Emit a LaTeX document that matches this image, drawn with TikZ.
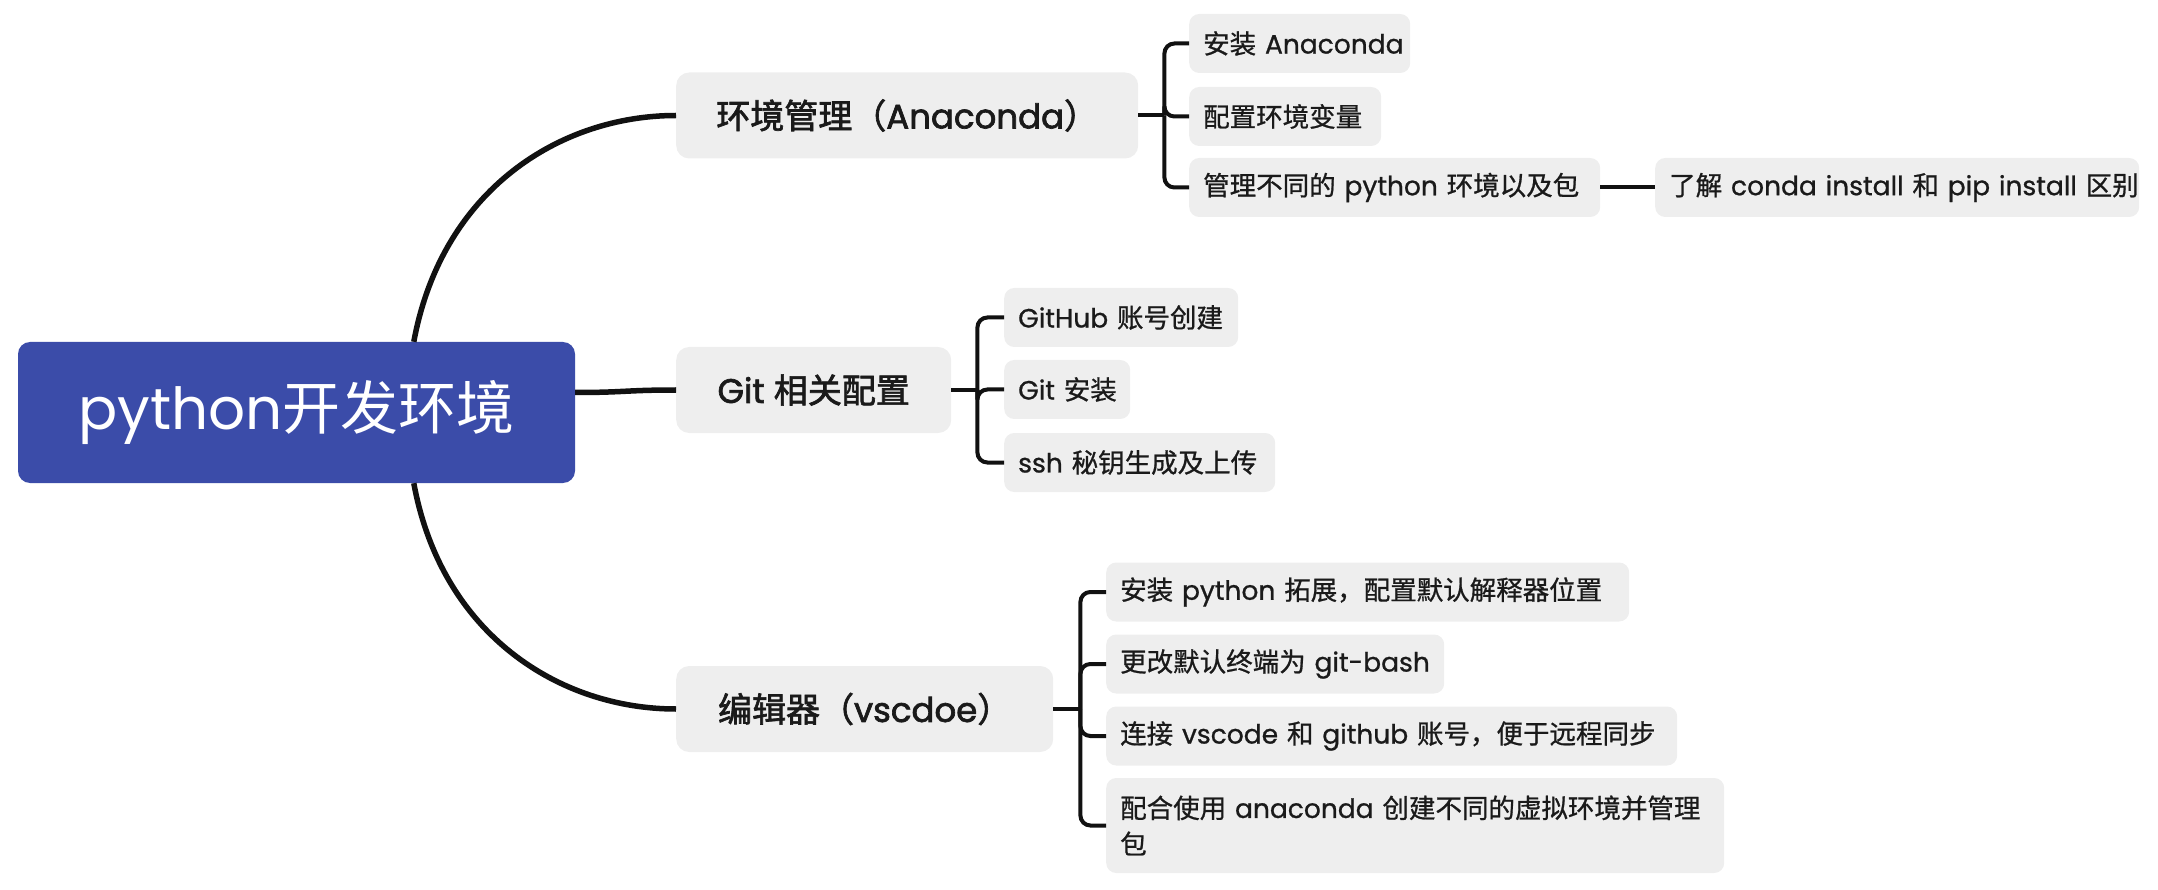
\documentclass[tikz,border=0pt]{standalone}
\usepackage{fontspec}
\setmainfont{Poppins}
\newfontfamily\cjk{Noto Sans CJK SC}
\newfontfamily\cjkB[FakeBold=2]{Noto Sans CJK SC}
\newfontfamily\latB[FakeBold=2]{Poppins}
\newfontfamily\cjkL[FakeBold=0.8]{Noto Sans CJK SC}
\newfontfamily\latL[FakeBold=0.8]{Poppins}
\let\cjkcur\cjk
\newcommand\C[1]{{\cjkcur #1}}
\newcommand\rootfnt{\fontsize{58}{66}\selectfont\let\cjkcur\cjk}
\newcommand\branchfnt{\fontsize{34}{40}\selectfont\latB\let\cjkcur\cjkB}
\newcommand\leaffnt{\fontsize{26.5}{36}\selectfont\latL\let\cjkcur\cjkL}
\usetikzlibrary{calc}
\definecolor{rootblue}{RGB}{59,76,169}
\definecolor{boxgrey}{RGB}{238,238,238}
\definecolor{txt}{RGB}{26,26,26}
\definecolor{ln}{RGB}{17,17,17}
\begin{document}
\begin{tikzpicture}[x=1pt,y=-1pt,
  rootbox/.style={fill=rootblue, rounded corners=12pt, text=white, inner sep=0pt,
    minimum width=557pt, minimum height=141pt, font=\rootfnt},
  branchbox/.style={fill=boxgrey, rounded corners=13pt, text=txt, inner sep=0pt,
    minimum height=86pt, anchor=west, font=\branchfnt},
  leafbox/.style={fill=boxgrey, rounded corners=10pt, text=txt, inner xsep=14pt, inner ysep=0pt,
    minimum height=59pt, anchor=west, align=left, font=\leaffnt},
  mainline/.style={draw=ln, line width=5.5pt},
  leafline/.style={draw=ln, line width=4pt}]
\useasboundingbox (0,0) rectangle (2158,890);
% root
\node[rootbox] (root) at (296.5,412.5) {python\C{开发环境}};
% branches
\node[branchbox, minimum width=462pt] (b1) at (676,115.5) {\C{环境管理（}Anaconda\C{）}};
\node[branchbox, minimum width=275pt] (b2) at (676,390) {Git \C{相关配置}};
\node[branchbox, minimum width=377pt] (b3) at (676,709) {\C{编辑器（}vscdoe\C{）}};
% leaves of b1
\node[leafbox, text width=193pt] (l11) at (1189,43.5) {\mbox{\C{安装} Anaconda}};
\node[leafbox, text width=164pt] (l12) at (1189,116.5) {\mbox{\C{配置环境变量}}};
\node[leafbox, text width=383pt] (l13) at (1189,187.5) {\mbox{\C{管理不同的} python \C{环境以及包}}};
\node[leafbox, text width=456pt] (l131) at (1655,187.5) {\mbox{\C{了解} conda install \C{和} pip install \C{区别}}};
% leaves of b2
\node[leafbox, text width=206pt] (l21) at (1004,317.5) {\mbox{GitHub \C{账号创建}}};
\node[leafbox, text width=98pt] (l22) at (1004,389.5) {\mbox{Git \C{安装}}};
\node[leafbox, text width=243pt] (l23) at (1004,462.5) {\mbox{ssh \C{秘钥生成及上传}}};
% leaves of b3
\node[leafbox, text width=495pt] (l31) at (1106,592) {\mbox{\C{安装} python \C{拓展，配置默认解释器位置}}};
\node[leafbox, text width=310pt] (l32) at (1106,664) {\mbox{\C{更改默认终端为} git-bash}};
\node[leafbox, text width=543pt] (l33) at (1106,736) {\mbox{\C{连接} vscode \C{和} github \C{账号，便于远程同步}}};
\node[leafbox, text width=590pt, minimum height=95pt] (l34) at (1106,825.5) {\mbox{\C{配合使用} anaconda \C{创建不同的虚拟环境并管理}}\\\C{包}};
% root connectors
\coordinate (r1) at ($(root.north west)+(396,0)$);
\coordinate (r2) at ($(root.east)+(0,-20)$);
\coordinate (r3) at ($(root.south west)+(396,0)$);
\draw[mainline] (r1) .. controls ($(r1)+(28,-152)$) and ($(b1.west)+(-116,0)$) .. (b1.west);
\draw[mainline] (r2) .. controls ($(r2)+(50,0)$) and ($(b2.west)+(-50,0)$) .. (b2.west);
\draw[mainline] (r3) .. controls ($(r3)+(28,152)$) and ($(b3.west)+(-116,0)$) .. (b3.west);
% spines
\coordinate (s1) at ($(b1.east)+(26,0)$);
\coordinate (s2) at ($(b2.east)+(26,0)$);
\coordinate (s3) at ($(b3.east)+(27,0)$);
\draw[leafline] (b1.east) -- (s1);
\draw[leafline] (b2.east) -- (s2);
\draw[leafline] (b3.east) -- (s3);
\foreach \l in {l11,l12,l13} \draw[leafline, rounded corners=10pt] (s1) |- (\l.west);
\foreach \l in {l21,l22,l23} \draw[leafline, rounded corners=10pt] (s2) |- (\l.west);
\foreach \l in {l31,l32,l33,l34} \draw[leafline, rounded corners=10pt] (s3) |- (\l.west);
\draw[leafline] (l13.east) -- (l131.west);
\end{tikzpicture}
\end{document}
